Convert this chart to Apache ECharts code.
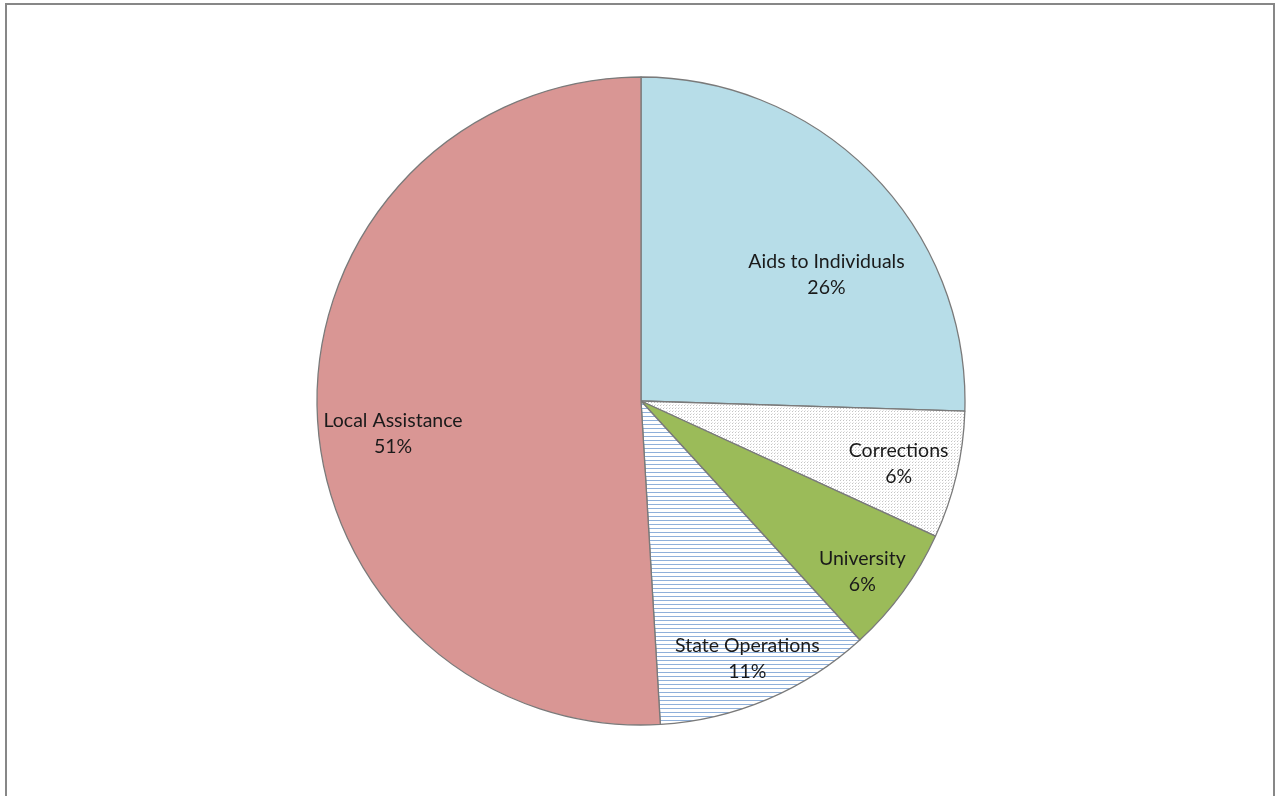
<!DOCTYPE html>
<html>
<head>
<meta charset="utf-8">
<script src="https://cdn.jsdelivr.net/npm/echarts@6/dist/echarts.min.js"></script>
<style>
  html, body { margin: 0; padding: 0; background: #fff; }
  #chart { width: 1275px; height: 796px; }
</style>
</head>
<body>
<div id="chart"></div>
<script>
// ---- data ----
const categories = ['Aids to Individuals', 'Corrections', 'University', 'State Operations', 'Local Assistance'];
const values = [25.5, 6.35, 6.35, 10.85, 50.95];

// ---- patterns ----
function dotPattern() {
  const c = document.createElement('canvas');
  c.width = 3; c.height = 3;
  const g = c.getContext('2d');
  g.fillStyle = '#ffffff'; g.fillRect(0, 0, 3, 3);
  g.fillStyle = '#c4c4c4';
  g.fillRect(0, 0, 1, 1);
  g.fillStyle = '#e4e4e4';
  g.fillRect(1, 2, 1, 1);
  return c;
}
function linePattern() {
  const c = document.createElement('canvas');
  c.width = 4; c.height = 4;
  const g = c.getContext('2d');
  g.fillStyle = '#ffffff'; g.fillRect(0, 0, 4, 4);
  g.fillStyle = '#8fb0da';
  g.fillRect(0, 0, 4, 1);
  return c;
}

const fills = [
  '#b7dde8',
  { image: dotPattern(), repeat: 'repeat' },
  '#9bbb59',
  { image: linePattern(), repeat: 'repeat' },
  '#d99694'
];
// label nudges relative to the default 'inside' position
const labelShift = [[67, -11], [97, 25], [88, 74], [42, 106], [-83, 28]];

const total = values.reduce((a, b) => a + b, 0);

const chart = echarts.init(document.getElementById('chart'));
chart.setOption({
  animation: false,
  backgroundColor: '#ffffff',
  graphic: [{
    type: 'rect',
    shape: { x: 6, y: 4, width: 1268, height: 900 },
    style: { fill: 'none', stroke: '#878787', lineWidth: 2 },
    silent: true
  }],
  series: [{
    type: 'pie',
    center: [641, 401],
    radius: 324,
    startAngle: 90,
    clockwise: true,
    avoidLabelOverlap: false,
    data: categories.map((name, i) => ({
      name: name,
      value: values[i],
      itemStyle: { color: fills[i] }
    })),
    itemStyle: { borderColor: '#7a7a7a', borderWidth: 1.3 },
    label: {
      show: true,
      position: 'inside',
      color: '#1a1a1a',
      fontFamily: 'Lato',
      fontSize: 19.5,
      lineHeight: 26,
      align: 'center',
      formatter: p => p.name + '\n' + Math.round(p.value / total * 100) + '%'
    },
    labelLine: { show: false },
    labelLayout: p => ({ dx: labelShift[p.dataIndex][0], dy: labelShift[p.dataIndex][1] }),
    emphasis: { disabled: true }
  }]
});
</script>
</body>
</html>
